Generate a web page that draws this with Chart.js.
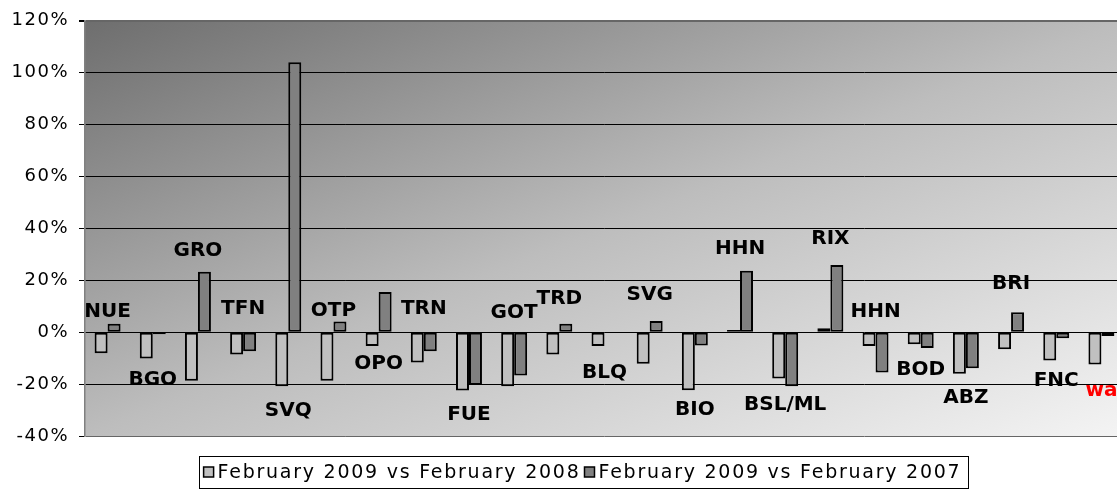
<!DOCTYPE html>
<html>
<head>
<meta charset="utf-8">
<script src="https://cdn.jsdelivr.net/npm/chart.js@4.4.1/dist/chart.umd.min.js"></script>
<style>
  html, body { margin: 0; padding: 0; background: #fff; overflow: hidden; }
  #wrap { position: relative; width: 1166px; height: 490px; }
</style>
</head>
<body>
<div id="wrap"><canvas id="chart"></canvas></div>
<script>
// airports, in the order of the groups
const airports = ["NUE", "BGO", "GRO", "TFN", "SVQ", "OTP", "OPO", "TRN", "FUE", "GOT", "TRD", "BLQ",
  "SVG", "BIO", "HHN", "BSL/ML", "RIX", "HHN", "BOD", "ABZ", "BRI", "FNC", "wa"];
const seriesNames = ["February 2009 vs February 2008", "February 2009 vs February 2007"];
// change in %
const vs2008 = [-8.1, -10.1, -18.7, -8.6, -20.8, -18.7, -5.3, -11.7, -22.5, -20.8, -8.6, -5.3,
  -12.2, -22.4, 0.8, -17.8, 1.5, -5.3, -4.6, -16, -6.6, -10.9, -12.4];
const vs2007 = [3.3, -0.8, 23.3, -7.3, 104, 4.1, 15.5, -7.3, -20.3, -16.7, 3.3, null,
  4.3, -5.1, 23.7, -20.8, 25.9, -15.5, -6.1, -13.9, 7.7, -2.3, -1.5];
// level (%) where each airport code is written
const labelAt = [8, -18.3, 31.5, 8.9, -30.4, 8.4, -12, 8.9, -31.7, 7.3, 13, -15.5,
  14.4, -30, 32.3, -27.9, 35.9, 8, -14.6, -25.4, 18.5, -18.6, -22.4];
const yMin = -40, yMax = 120, yStep = 20;

// gradient behind the bars, dark top left to white bottom right
const plotFill = {
  id: "plotFill",
  beforeLayout(chart) {
    chart.ctx.letterSpacing = "1.5px";
  },
  beforeDraw(chart) {
    const ctx = chart.ctx;
    const a = chart.chartArea;
    ctx.letterSpacing = "1.5px"; // tick labels
    const w = a.right - a.left, h = a.bottom - a.top;
    const cx = a.left + w / 2, cy = a.top + h / 2;
    const k = (w * h) / (w * w + h * h);
    const g = ctx.createLinearGradient(cx - k * h, cy - k * w, cx + k * h, cy + k * w);
    g.addColorStop(0, "#6e6e6e");
    g.addColorStop(0.5, "#bdbdbd");
    g.addColorStop(1, "#f4f4f4");
    ctx.save();
    ctx.fillStyle = g;
    ctx.fillRect(a.left, a.top, w, h);
    ctx.restore();
  }
};

// airport codes written inside the plot
const codeLabels = {
  id: "codeLabels",
  afterDatasetsDraw(chart) {
    const ctx = chart.ctx;
    const x = chart.scales.x, y = chart.scales.y;
    ctx.save();
    ctx.letterSpacing = "0px";
    ctx.font = "bold 20px 'DejaVu Sans'";
    ctx.textAlign = "center";
    ctx.textBaseline = "middle";
    airports.forEach((code, i) => {
      ctx.fillStyle = code === "wa" ? "#ff0000" : "#000";
      ctx.fillText(code, x.getPixelForValue(i), y.getPixelForValue(labelAt[i]));
    });
    ctx.restore();
  }
};

// legend in a framed box under the plot
const boxLegend = {
  id: "boxLegend",
  afterDraw(chart) {
    const ctx = chart.ctx;
    const sets = chart.data.datasets;
    ctx.save();
    ctx.font = "19px 'DejaVu Sans'";
    ctx.letterSpacing = "1.75px";
    const sq = 10, gap = 4, pad = 5;
    const widths = sets.map(d => ctx.measureText(d.label).width);
    let total = 0;
    widths.forEach((tw, i) => { total += sq + gap + tw + (i < widths.length - 1 ? gap : 0); });
    const boxW = total + pad * 2 + 1;
    const boxTop = 456, boxH = 32;
    const left = 583 - boxW / 2;
    ctx.fillStyle = "#fff";
    ctx.fillRect(left, boxTop, boxW, boxH);
    ctx.strokeStyle = "#000";
    ctx.lineWidth = 1;
    ctx.strokeRect(Math.round(left) + 0.5, boxTop + 0.5, Math.round(boxW), boxH);
    let xPos = left + pad;
    const mid = boxTop + boxH / 2;
    ctx.textBaseline = "middle";
    ctx.textAlign = "left";
    sets.forEach((d, i) => {
      ctx.fillStyle = d.backgroundColor;
      ctx.fillRect(xPos, mid - sq / 2, sq, sq);
      ctx.lineWidth = 1.5;
      ctx.strokeRect(xPos, mid - sq / 2, sq, sq);
      xPos += sq + gap;
      ctx.fillStyle = "#000";
      ctx.fillText(d.label, xPos, mid + 1);
      xPos += widths[i] + gap;
    });
    ctx.restore();
  }
};

new Chart(document.getElementById("chart"), {
  type: "bar",
  data: {
    labels: airports,
    datasets: [
      {
        label: seriesNames[0],
        data: vs2008,
        backgroundColor: "#c0c0c0",
        borderColor: "#000",
        borderWidth: 2,
        borderSkipped: false,
      },
      {
        label: seriesNames[1],
        data: vs2007,
        backgroundColor: "#808080",
        borderColor: "#000",
        borderWidth: 2,
        borderSkipped: false,
      },
    ],
  },
  options: {
    responsive: true,
    maintainAspectRatio: false,
    animation: false,
    layout: { padding: { left: 8, right: 42, top: 1, bottom: 54 } },
    datasets: { bar: { categoryPercentage: 0.575, barPercentage: 1 } },
    plugins: {
      legend: { display: false },
      tooltip: { enabled: false },
    },
    scales: {
      x: { display: false },
      y: {
        min: yMin,
        max: yMax,
        afterFit: s => { s.width = 77; },
        ticks: {
          stepSize: yStep,
          padding: 10,
          color: "#000",
          font: { family: "DejaVu Sans", size: 18 },
          callback: v => v + "%",
        },
        grid: {
          color: c => (c.tick && (c.tick.value === yMax || c.tick.value === yMin) ? "#666" : "#000"),
          lineWidth: c => (c.tick && c.tick.value === yMax ? 2 : 1),
          tickLength: 6,
          tickColor: "#000",
        },
        border: { color: "#808080", width: 1.5 },
      },
    },
  },
  plugins: [plotFill, codeLabels, boxLegend],
});
</script>
</body>
</html>
